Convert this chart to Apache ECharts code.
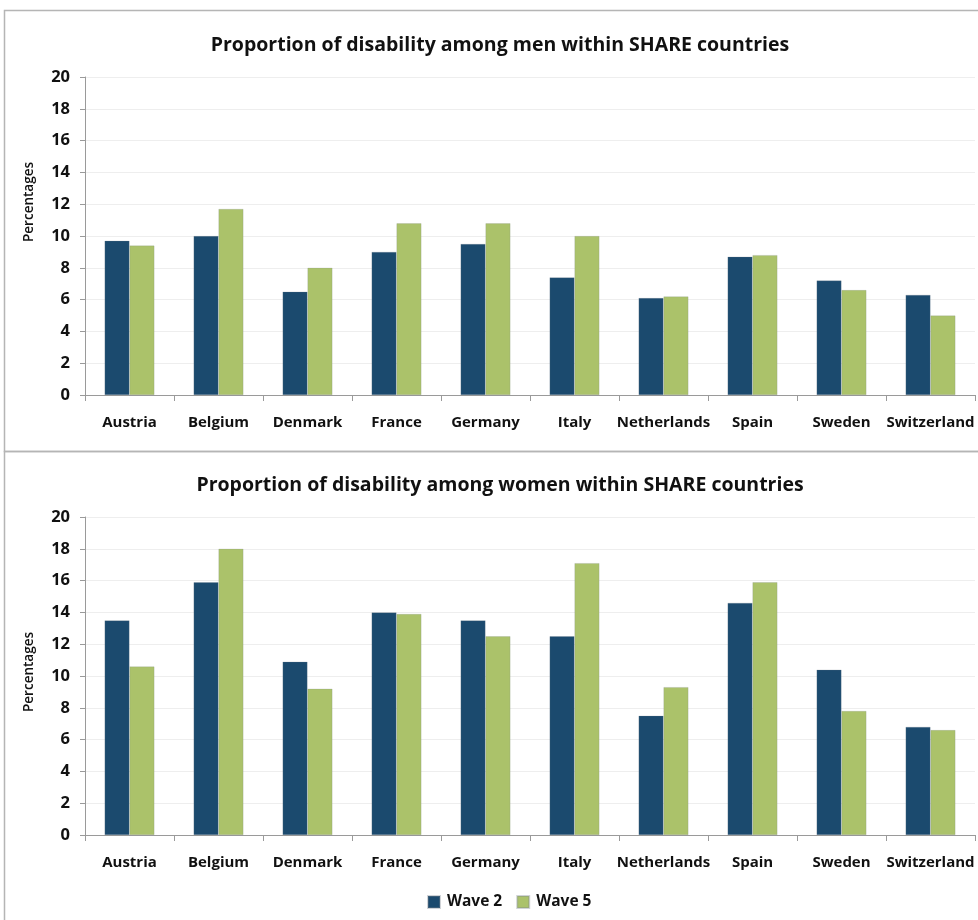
<!DOCTYPE html>
<html>
<head>
<meta charset="utf-8">
<title>Proportion of disability within SHARE countries</title>
<script src="https://cdn.jsdelivr.net/npm/echarts@6/dist/echarts.min.js"></script>
<style>
  html, body { margin: 0; padding: 0; background: #ffffff; }
  #chart { width: 978px; height: 920px; }
</style>
</head>
<body>
<div id="chart"></div>
<script>
// Countries surveyed
const countries = ['Austria', 'Belgium', 'Denmark', 'France', 'Germany', 'Italy', 'Netherlands', 'Spain', 'Sweden', 'Switzerland'];

// Proportion of disability among men (%)
const menWave2 = [9.7, 10.0, 6.5, 9.0, 9.5, 7.4, 6.1, 8.7, 7.2, 6.3];
const menWave5 = [9.4, 11.7, 8.0, 10.8, 10.8, 10.0, 6.2, 8.8, 6.6, 5.0];

// Proportion of disability among women (%)
const womenWave2 = [13.5, 15.9, 10.9, 14.0, 13.5, 12.5, 7.5, 14.6, 10.4, 6.8];
const womenWave5 = [10.6, 18.0, 9.2, 13.9, 12.5, 17.1, 9.3, 15.9, 7.8, 6.6];

// Panel titles and series names
const panelTitles = [
  'Proportion of disability among men within SHARE countries',
  'Proportion of disability among women within SHARE countries'
];
const seriesNames = ['Wave 2', 'Wave 5'];
const yAxisName = 'Percentages';

const COLOR_W2 = '#1b4a6e';
const COLOR_W5 = '#abc26a';
const FONT = '"Open Sans", "Noto Sans", sans-serif';

const chart = echarts.init(document.getElementById('chart'), null, { renderer: 'canvas' });

function xAxisFor(gridIndex) {
  return {
    type: 'category',
    gridIndex: gridIndex,
    data: countries,
    boundaryGap: true,
    axisLine: { show: true, lineStyle: { color: '#9a9a9a', width: 1 } },
    axisTick: { show: true, alignWithLabel: false, length: 6, lineStyle: { color: '#9a9a9a' } },
    axisLabel: {
      color: '#111', fontFamily: FONT, fontWeight: 'bold', fontSize: 15, margin: 20, interval: 0
    },
    splitLine: { show: false }
  };
}

// nameShift moves the rotated axis name upward along the axis (px, applied as padding)
function yAxisFor(gridIndex, nameShift) {
  return {
    type: 'value',
    gridIndex: gridIndex,
    min: 0, max: 20, interval: 2,
    name: yAxisName,
    nameLocation: 'middle',
    nameGap: 49,
    nameRotate: 90,
    nameTextStyle: {
      color: '#111', fontFamily: FONT, fontSize: 13.5, fontWeight: 600,
      padding: [0, 0, 0, nameShift * 2]
    },
    axisLine: { show: true, lineStyle: { color: '#9a9a9a', width: 1 } },
    axisTick: { show: true, length: 5, lineStyle: { color: '#9a9a9a' } },
    axisLabel: { color: '#111', fontFamily: FONT, fontWeight: 'bold', fontSize: 16.5, margin: 15 },
    splitLine: { show: true, lineStyle: { color: '#eeeeee', width: 1 } }
  };
}

function barSeries(name, data, color, axisIndex) {
  return {
    name: name,
    type: 'bar',
    xAxisIndex: axisIndex,
    yAxisIndex: axisIndex,
    data: data,
    barGap: '0%',
    barCategoryGap: '44%',
    itemStyle: { color: color, borderColor: 'rgba(120,130,140,0.35)', borderWidth: 0.6 },
    emphasis: { disabled: true },
    animation: false
  };
}

const option = {
  backgroundColor: '#ffffff',
  animation: false,
  graphic: [
    // panel frames
    { type: 'rect', shape: { x: 4.5, y: 10.5, width: 1000, height: 441 },
      style: { fill: 'none', stroke: '#b5b5b5', lineWidth: 1.5 }, silent: true, z: -1 },
    { type: 'rect', shape: { x: 4.5, y: 451.5, width: 1000, height: 500 },
      style: { fill: 'none', stroke: '#b5b5b5', lineWidth: 1.5 }, silent: true, z: -1 }
  ],
  title: [
    { text: panelTitles[0], left: 495, top: 30, textAlign: 'center',
      textStyle: { color: '#111', fontFamily: FONT, fontWeight: 'bold', fontSize: 19.5 } },
    { text: panelTitles[1], left: 495, top: 470, textAlign: 'center',
      textStyle: { color: '#111', fontFamily: FONT, fontWeight: 'bold', fontSize: 19.5 } }
  ],
  legend: {
    data: [
      { name: seriesNames[0], itemStyle: { color: COLOR_W2 } },
      { name: seriesNames[1], itemStyle: { color: COLOR_W5 } }
    ],
    left: 422,
    top: 889,
    itemWidth: 12,
    itemHeight: 12,
    itemGap: 14,
    icon: 'rect',
    textStyle: { color: '#111', fontFamily: FONT, fontWeight: 'bold', fontSize: 15.5, padding: [0, 0, 0, 2] }
  },
  grid: [
    { left: 85, right: 3, top: 77, height: 318 },
    { left: 85, right: 3, top: 517, height: 318 }
  ],
  xAxis: [xAxisFor(0), xAxisFor(1)],
  yAxis: [yAxisFor(0, 34), yAxisFor(1, 4)],
  series: [
    barSeries(seriesNames[0], menWave2, COLOR_W2, 0),
    barSeries(seriesNames[1], menWave5, COLOR_W5, 0),
    barSeries(seriesNames[0], womenWave2, COLOR_W2, 1),
    barSeries(seriesNames[1], womenWave5, COLOR_W5, 1)
  ]
};

chart.setOption(option);
</script>
</body>
</html>
